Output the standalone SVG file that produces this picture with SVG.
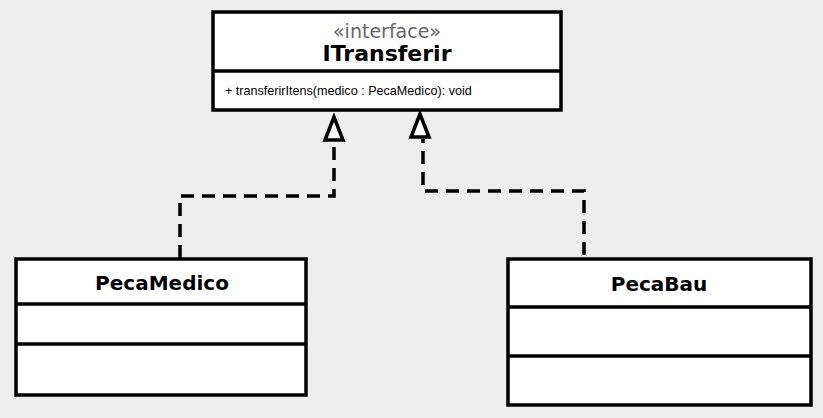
<svg xmlns="http://www.w3.org/2000/svg" width="823" height="418" viewBox="0 0 823 418">
<style>
.box{fill:#fff;stroke:#000;stroke-width:3.5}
.div{stroke:#000;stroke-width:3.5}
.title{font-family:"DejaVu Sans",Verdana,sans-serif;font-weight:bold;font-size:20px;text-anchor:middle;fill:#000}
.big{font-size:22px}
.stereo{font-family:"DejaVu Sans",Verdana,sans-serif;font-size:19px;text-anchor:middle;fill:#666}
.op{font-family:"Liberation Sans",Arial,sans-serif;font-size:12.6px;fill:#000}
.conn{fill:none;stroke:#000;stroke-width:3.5;stroke-dasharray:13,8}
.head{fill:#fff;stroke:#000;stroke-width:3.5;stroke-linejoin:miter}
</style>
<rect width="823" height="418" fill="#eeeeee"/>
<g id="connectors">
<path class="conn" d="M180,258 V196 H334 V141"/>
<polygon class="head" points="334,117 325,140 343,140"/>
<path class="conn" d="M584,255 V191 H423 V139"/>
<polygon class="head" points="420,114 411,137 429,137"/>
</g>
<g id="ITransferir">
<rect class="box" x="213" y="12" width="348" height="98"/>
<line class="div" x1="213" y1="71" x2="561" y2="71"/>
<text class="stereo" x="387" y="38">«interface»</text>
<text class="title big" x="387" y="61">ITransferir</text>
<text class="op" x="225" y="95">+ transferirItens(medico : PecaMedico): void</text>
</g>
<g id="PecaMedico">
<rect class="box" x="16" y="259" width="290" height="136"/>
<line class="div" x1="16" y1="304" x2="306" y2="304"/>
<line class="div" x1="16" y1="344" x2="306" y2="344"/>
<text class="title" x="162" y="290">PecaMedico</text>
</g>
<g id="PecaBau">
<rect class="box" x="508" y="259" width="303" height="146"/>
<line class="div" x1="508" y1="307" x2="811" y2="307"/>
<line class="div" x1="508" y1="356" x2="811" y2="356"/>
<text class="title" x="659" y="291">PecaBau</text>
</g>
</svg>
